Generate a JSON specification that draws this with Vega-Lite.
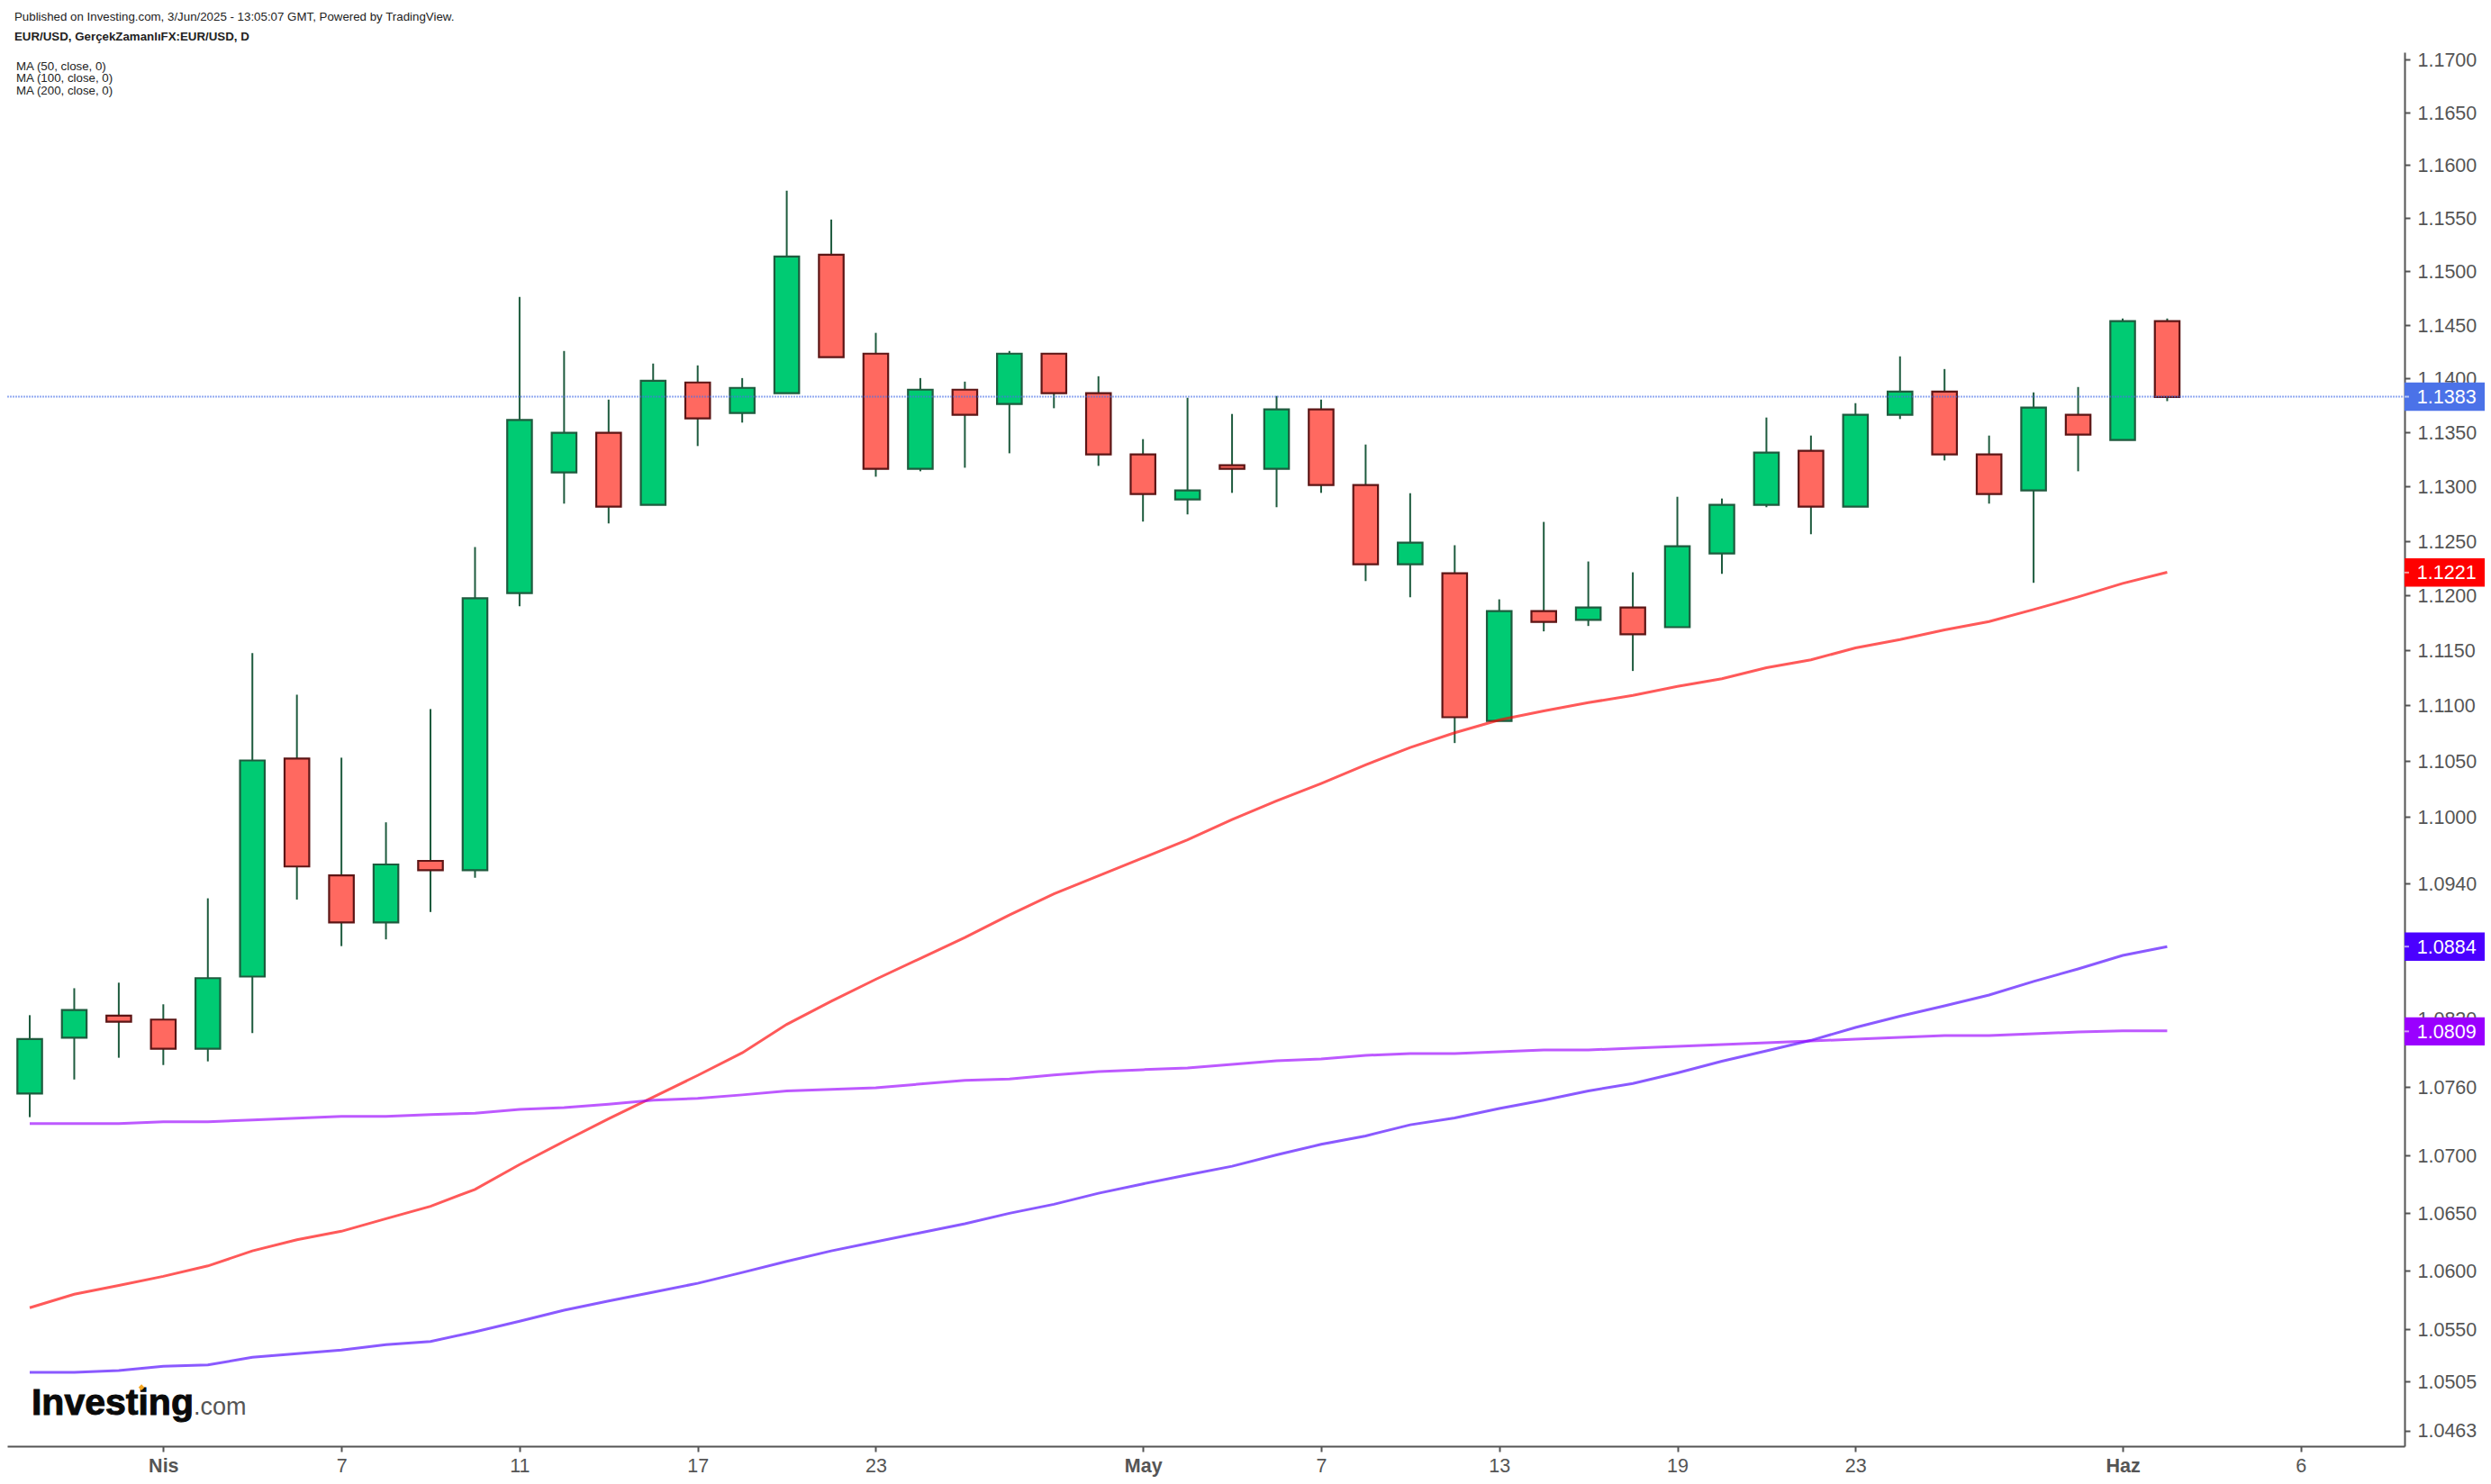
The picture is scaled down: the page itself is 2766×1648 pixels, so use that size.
{
  "$schema": "https://vega.github.io/schema/vega-lite/v6.json",
  "width": 2662,
  "height": 1548,
  "autosize": "none",
  "padding": {"left": 8, "top": 58, "right": 96, "bottom": 42},
  "background": "white",
  "title": {
    "text": "Published on Investing.com, 3/Jun/2025 - 13:05:07 GMT, Powered by TradingView.",
    "subtitle": "EUR/USD, GerçekZamanlıFX:EUR/USD, D",
    "anchor": "start",
    "frame": "group",
    "dx": 8,
    "offset": 9.5,
    "font": "Liberation Sans",
    "fontSize": 13.3,
    "fontWeight": "normal",
    "color": "#222222",
    "subtitleFont": "Liberation Sans",
    "subtitleFontSize": 13.3,
    "subtitleFontWeight": "bold",
    "subtitleColor": "#222222",
    "subtitlePadding": 8.5
  },
  "config": {
    "view": {"stroke": null},
    "axis": {
      "grid": false,
      "title": null,
      "domainColor": "#555555",
      "domainWidth": 2,
      "tickColor": "#555555",
      "tickWidth": 2,
      "tickSize": 6,
      "labelColor": "#555555",
      "labelFont": "Liberation Sans",
      "labelFontSize": 21.5,
      "labelOverlap": false,
      "labelBound": false,
      "labelFlush": false
    }
  },
  "layer": [
    {
      "data": {
        "values": [
          {"bar": 0, "date": "2025-03-27", "open": 1.07544, "high": 1.08233, "low": 1.07337, "close": 1.08022, "ma50": 1.05682, "ma100": 1.05127, "ma200": 1.0728},
          {"bar": 1, "date": "2025-03-28", "open": 1.08034, "high": 1.08471, "low": 1.07667, "close": 1.08279, "ma50": 1.05798, "ma100": 1.05127, "ma200": 1.0728},
          {"bar": 2, "date": "2025-03-31", "open": 1.08229, "high": 1.0852, "low": 1.07858, "close": 1.08176, "ma50": 1.05875, "ma100": 1.05142, "ma200": 1.0728},
          {"bar": 3, "date": "2025-04-01", "open": 1.08194, "high": 1.08329, "low": 1.07794, "close": 1.07938, "ma50": 1.05953, "ma100": 1.05179, "ma200": 1.07296},
          {"bar": 4, "date": "2025-04-02", "open": 1.07938, "high": 1.09269, "low": 1.07826, "close": 1.0856, "ma50": 1.06043, "ma100": 1.05191, "ma200": 1.07296},
          {"bar": 5, "date": "2025-04-03", "open": 1.08574, "high": 1.11475, "low": 1.08076, "close": 1.10504, "ma50": 1.06173, "ma100": 1.05256, "ma200": 1.07312},
          {"bar": 6, "date": "2025-04-04", "open": 1.10522, "high": 1.11098, "low": 1.09258, "close": 1.09553, "ma50": 1.0627, "ma100": 1.05287, "ma200": 1.07327},
          {"bar": 7, "date": "2025-04-07", "open": 1.09473, "high": 1.10529, "low": 1.08844, "close": 1.09054, "ma50": 1.06343, "ma100": 1.05318, "ma200": 1.07343},
          {"bar": 8, "date": "2025-04-08", "open": 1.09054, "high": 1.09948, "low": 1.08904, "close": 1.09571, "ma50": 1.06452, "ma100": 1.05365, "ma200": 1.07343},
          {"bar": 9, "date": "2025-04-09", "open": 1.09603, "high": 1.10968, "low": 1.09147, "close": 1.0952, "ma50": 1.06559, "ma100": 1.05392, "ma200": 1.07359},
          {"bar": 10, "date": "2025-04-10", "open": 1.0952, "high": 1.12443, "low": 1.09453, "close": 1.11975, "ma50": 1.06707, "ma100": 1.05475, "ma200": 1.07372},
          {"bar": 11, "date": "2025-04-11", "open": 1.12022, "high": 1.1476, "low": 1.11902, "close": 1.13614, "ma50": 1.06923, "ma100": 1.05566, "ma200": 1.07404},
          {"bar": 12, "date": "2025-04-14", "open": 1.13129, "high": 1.14255, "low": 1.12842, "close": 1.13495, "ma50": 1.07125, "ma100": 1.05661, "ma200": 1.0742},
          {"bar": 13, "date": "2025-04-15", "open": 1.13495, "high": 1.13803, "low": 1.1266, "close": 1.12814, "ma50": 1.07323, "ma100": 1.05741, "ma200": 1.07451},
          {"bar": 14, "date": "2025-04-16", "open": 1.12831, "high": 1.14138, "low": 1.12831, "close": 1.13978, "ma50": 1.07512, "ma100": 1.05816, "ma200": 1.07485},
          {"bar": 15, "date": "2025-04-17", "open": 1.13962, "high": 1.14121, "low": 1.13373, "close": 1.13629, "ma50": 1.07703, "ma100": 1.05893, "ma200": 1.07501},
          {"bar": 16, "date": "2025-04-18", "open": 1.13679, "high": 1.14003, "low": 1.1359, "close": 1.13912, "ma50": 1.07901, "ma100": 1.05986, "ma200": 1.07532},
          {"bar": 17, "date": "2025-04-21", "open": 1.13862, "high": 1.15758, "low": 1.13862, "close": 1.15139, "ma50": 1.08152, "ma100": 1.06082, "ma200": 1.07567},
          {"bar": 18, "date": "2025-04-22", "open": 1.15156, "high": 1.15486, "low": 1.14197, "close": 1.14197, "ma50": 1.08356, "ma100": 1.06173, "ma200": 1.0758},
          {"bar": 19, "date": "2025-04-23", "open": 1.1423, "high": 1.14424, "low": 1.1309, "close": 1.13162, "ma50": 1.0855, "ma100": 1.06252, "ma200": 1.07595},
          {"bar": 20, "date": "2025-04-24", "open": 1.13162, "high": 1.14003, "low": 1.1314, "close": 1.13895, "ma50": 1.08735, "ma100": 1.0633, "ma200": 1.07627},
          {"bar": 21, "date": "2025-04-25", "open": 1.13895, "high": 1.1397, "low": 1.13173, "close": 1.13662, "ma50": 1.0892, "ma100": 1.06408, "ma200": 1.07659},
          {"bar": 22, "date": "2025-04-28", "open": 1.13762, "high": 1.14255, "low": 1.13306, "close": 1.1423, "ma50": 1.09121, "ma100": 1.06499, "ma200": 1.07672},
          {"bar": 23, "date": "2025-04-29", "open": 1.1423, "high": 1.1423, "low": 1.13723, "close": 1.13862, "ma50": 1.09309, "ma100": 1.06577, "ma200": 1.07706},
          {"bar": 24, "date": "2025-04-30", "open": 1.13862, "high": 1.1402, "low": 1.1319, "close": 1.13296, "ma50": 1.09469, "ma100": 1.06673, "ma200": 1.07737},
          {"bar": 25, "date": "2025-05-01", "open": 1.13296, "high": 1.13437, "low": 1.12677, "close": 1.1293, "ma50": 1.0963, "ma100": 1.06755, "ma200": 1.07753},
          {"bar": 26, "date": "2025-05-02", "open": 1.1288, "high": 1.1382, "low": 1.12743, "close": 1.12963, "ma50": 1.09791, "ma100": 1.06832, "ma200": 1.07769},
          {"bar": 27, "date": "2025-05-05", "open": 1.13196, "high": 1.1367, "low": 1.12941, "close": 1.13162, "ma50": 1.09973, "ma100": 1.06908, "ma200": 1.078},
          {"bar": 28, "date": "2025-05-06", "open": 1.13162, "high": 1.13837, "low": 1.12809, "close": 1.13712, "ma50": 1.1014, "ma100": 1.07007, "ma200": 1.07832},
          {"bar": 29, "date": "2025-05-07", "open": 1.13712, "high": 1.13803, "low": 1.12941, "close": 1.13013, "ma50": 1.10297, "ma100": 1.07099, "ma200": 1.07848},
          {"bar": 30, "date": "2025-05-08", "open": 1.13013, "high": 1.13387, "low": 1.12132, "close": 1.12286, "ma50": 1.10464, "ma100": 1.07173, "ma200": 1.07879},
          {"bar": 31, "date": "2025-05-09", "open": 1.12286, "high": 1.12938, "low": 1.11984, "close": 1.12484, "ma50": 1.10621, "ma100": 1.0727, "ma200": 1.07895},
          {"bar": 32, "date": "2025-05-12", "open": 1.12204, "high": 1.1246, "low": 1.10661, "close": 1.10894, "ma50": 1.10754, "ma100": 1.0733, "ma200": 1.07895},
          {"bar": 33, "date": "2025-05-13", "open": 1.10861, "high": 1.11965, "low": 1.10861, "close": 1.11858, "ma50": 1.1087, "ma100": 1.07412, "ma200": 1.07911},
          {"bar": 34, "date": "2025-05-14", "open": 1.11858, "high": 1.12674, "low": 1.11673, "close": 1.1176, "ma50": 1.10951, "ma100": 1.07485, "ma200": 1.07927},
          {"bar": 35, "date": "2025-05-15", "open": 1.11777, "high": 1.12311, "low": 1.11722, "close": 1.11891, "ma50": 1.11026, "ma100": 1.07567, "ma200": 1.07927},
          {"bar": 36, "date": "2025-05-16", "open": 1.11891, "high": 1.12212, "low": 1.11313, "close": 1.11646, "ma50": 1.11092, "ma100": 1.07632, "ma200": 1.07942},
          {"bar": 37, "date": "2025-05-19", "open": 1.11711, "high": 1.12905, "low": 1.11711, "close": 1.12451, "ma50": 1.11173, "ma100": 1.07725, "ma200": 1.07958},
          {"bar": 38, "date": "2025-05-20", "open": 1.12385, "high": 1.12889, "low": 1.12198, "close": 1.12831, "ma50": 1.11242, "ma100": 1.07827, "ma200": 1.07974},
          {"bar": 39, "date": "2025-05-21", "open": 1.12831, "high": 1.13637, "low": 1.12809, "close": 1.13312, "ma50": 1.11343, "ma100": 1.07919, "ma200": 1.0799},
          {"bar": 40, "date": "2025-05-22", "open": 1.13329, "high": 1.1347, "low": 1.12561, "close": 1.12814, "ma50": 1.11414, "ma100": 1.08011, "ma200": 1.08006},
          {"bar": 41, "date": "2025-05-23", "open": 1.12814, "high": 1.1377, "low": 1.12814, "close": 1.13662, "ma50": 1.11523, "ma100": 1.08125, "ma200": 1.08021},
          {"bar": 42, "date": "2025-05-26", "open": 1.13662, "high": 1.14205, "low": 1.13623, "close": 1.13878, "ma50": 1.11599, "ma100": 1.08224, "ma200": 1.08037},
          {"bar": 43, "date": "2025-05-27", "open": 1.13878, "high": 1.14087, "low": 1.1324, "close": 1.13296, "ma50": 1.11687, "ma100": 1.08316, "ma200": 1.08053},
          {"bar": 44, "date": "2025-05-28", "open": 1.13296, "high": 1.1347, "low": 1.12842, "close": 1.1293, "ma50": 1.11763, "ma100": 1.08411, "ma200": 1.08053},
          {"bar": 45, "date": "2025-05-29", "open": 1.12963, "high": 1.1387, "low": 1.12116, "close": 1.13729, "ma50": 1.11872, "ma100": 1.08531, "ma200": 1.08069},
          {"bar": 46, "date": "2025-05-30", "open": 1.13662, "high": 1.1392, "low": 1.1314, "close": 1.13479, "ma50": 1.11987, "ma100": 1.08642, "ma200": 1.08085},
          {"bar": 47, "date": "2025-06-02", "open": 1.13429, "high": 1.14558, "low": 1.13429, "close": 1.14533, "ma50": 1.12111, "ma100": 1.08761, "ma200": 1.08095},
          {"bar": 48, "date": "2025-06-03", "open": 1.14533, "high": 1.14558, "low": 1.13789, "close": 1.13828, "ma50": 1.12212, "ma100": 1.0884, "ma200": 1.08095}
        ]
      },
      "encoding": {
        "x": {
          "field": "bar",
          "type": "quantitative",
          "scale": {"domain": [-0.5056, 53.33], "nice": false, "zero": false, "padding": 0},
          "axis": {
            "values": [3, 7, 11, 15, 19, 25, 29, 33, 37, 41, 47, 51],
            "labelExpr": "['Nis','7','11','17','23','May','7','13','19','23','Haz','6'][indexof([3,7,11,15,19,25,29,33,37,41,47,51],datum.value)]",
            "labelFontWeight": {"condition": {"test": "datum.value==3||datum.value==25||datum.value==47", "value": "bold"}, "value": "normal"},
            "labelPadding": 5
          }
        }
      },
      "layer": [
        {
          "mark": {"type": "rule", "color": "#1E5B3E", "strokeWidth": 2},
          "encoding": {
            "y": {
              "field": "high",
              "type": "quantitative",
              "scale": {"type": "log", "domain": [1.04496, 1.17072], "nice": false, "zero": false, "padding": 0},
              "axis": {
                "orient": "right",
                "values": [1.17, 1.165, 1.16, 1.155, 1.15, 1.145, 1.14, 1.135, 1.13, 1.125, 1.12, 1.115, 1.11, 1.105, 1.1, 1.094, 1.082, 1.076, 1.07, 1.065, 1.06, 1.055, 1.0505, 1.0463],
                "format": ".4f",
                "labelPadding": 8,
                "labelOffset": 1.4
              }
            },
            "y2": {"field": "low"}
          }
        },
        {
          "mark": {"type": "bar", "size": 27.4, "strokeWidth": 2.2},
          "encoding": {
            "y": {"field": "open", "type": "quantitative"},
            "y2": {"field": "close"},
            "fill": {"condition": {"test": "datum.close >= datum.open", "value": "#00CB73"}, "value": "#FF6960"},
            "stroke": {"condition": {"test": "datum.close >= datum.open", "value": "#1E5B3E"}, "value": "#5C1515"}
          }
        },
        {
          "mark": {"type": "line", "color": "#FF0000", "opacity": 0.65, "strokeWidth": 3},
          "encoding": {"y": {"field": "ma50", "type": "quantitative"}}
        },
        {
          "mark": {"type": "line", "color": "#4B00FF", "opacity": 0.65, "strokeWidth": 3},
          "encoding": {"y": {"field": "ma100", "type": "quantitative"}}
        },
        {
          "mark": {"type": "line", "color": "#9A00FF", "opacity": 0.65, "strokeWidth": 3},
          "encoding": {"y": {"field": "ma200", "type": "quantitative"}}
        }
      ]
    },
    {
      "data": {"values": [{"series": "Price", "price": 1.1383}]},
      "mark": {"type": "rule", "color": "#4B72E8", "opacity": 0.6, "strokeWidth": 2, "strokeDash": [2, 1]},
      "encoding": {
        "x": {"datum": -0.5056, "type": "quantitative"},
        "x2": {"datum": 53.33},
        "y": {"field": "price", "type": "quantitative"}
      }
    },
    {
      "data": {"values": [
        {"series": "Price", "price": 1.1383},
        {"series": "MA50", "price": 1.1221},
        {"series": "MA100", "price": 1.0884},
        {"series": "MA200", "price": 1.0809}
      ]},
      "layer": [
        {
          "mark": {"type": "bar", "orient": "horizontal", "size": 31.4},
          "encoding": {
            "x": {"datum": 53.33, "type": "quantitative"},
            "x2": {"datum": 55.13},
            "y": {"field": "price", "type": "quantitative"},
            "color": {
              "field": "series",
              "type": "nominal",
              "scale": {"domain": ["Price", "MA50", "MA100", "MA200"], "range": ["#4B72E8", "#FF0000", "#4B00FF", "#9A00FF"]},
              "legend": null
            }
          }
        },
        {
          "mark": {"type": "rule", "color": "white", "opacity": 0.6, "strokeWidth": 2},
          "encoding": {
            "x": {"datum": 53.33, "type": "quantitative"},
            "x2": {"datum": 53.43},
            "y": {"field": "price", "type": "quantitative"}
          }
        },
        {
          "mark": {"type": "text", "align": "left", "baseline": "middle", "color": "white", "font": "Liberation Sans", "fontSize": 21.5, "dy": 1.4},
          "encoding": {
            "x": {"datum": 53.61, "type": "quantitative"},
            "y": {"field": "price", "type": "quantitative"},
            "text": {"field": "price", "type": "quantitative", "format": ".4f"}
          }
        }
      ]
    },
    {
      "data": {"values": [{"legend": "MA"}]},
      "mark": {"type": "text", "text": ["MA (50, close, 0)", "MA (100, close, 0)", "MA (200, close, 0)"], "align": "left", "baseline": "top", "lineHeight": 13.5, "color": "#222222", "font": "Liberation Sans", "fontSize": 13.3},
      "encoding": {
        "x": {"datum": -0.303, "type": "quantitative"},
        "y": {"datum": 1.16995, "type": "quantitative"}
      }
    },
    {
      "data": {"values": [{"logo": "Investing"}]},
      "mark": {"type": "text", "align": "left", "baseline": "alphabetic", "color": "#0A0A0A", "stroke": "#0A0A0A", "strokeWidth": 1, "font": "Liberation Sans", "fontWeight": "bold", "fontSize": 41},
      "encoding": {
        "x": {"datum": 0.04, "type": "quantitative"},
        "y": {"datum": 1.04765, "type": "quantitative"},
        "text": {"field": "logo"}
      }
    },
    {
      "data": {"values": [{"logo": ".com"}]},
      "mark": {"type": "text", "align": "left", "baseline": "alphabetic", "color": "#555555", "font": "Liberation Sans", "fontSize": 27},
      "encoding": {
        "x": {"datum": 3.68, "type": "quantitative"},
        "y": {"datum": 1.04765, "type": "quantitative"},
        "text": {"field": "logo"}
      }
    },
    {
      "data": {"values": [{"logo": "dot"}]},
      "mark": {"type": "point", "shape": "diamond", "filled": true, "color": "#F5A623", "opacity": 1, "size": 45},
      "encoding": {
        "x": {"datum": 2.51, "type": "quantitative"},
        "y": {"datum": 1.04998, "type": "quantitative"}
      }
    }
  ]
}
